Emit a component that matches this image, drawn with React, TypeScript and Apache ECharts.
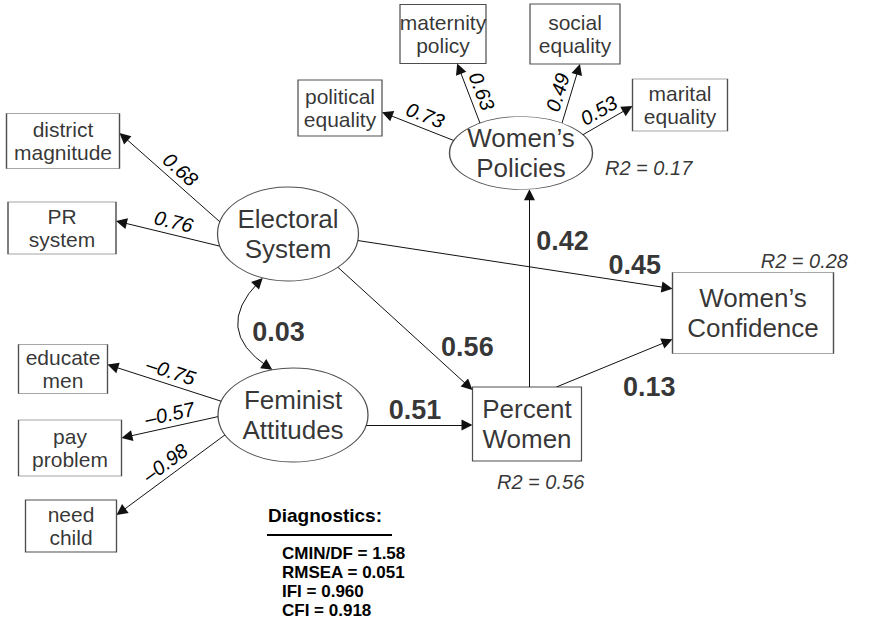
import { useEffect, useRef } from 'react';
import * as echarts from 'echarts';

const FONT = '"Liberation Sans", Arial, Helvetica, sans-serif';

// ---------------- data ----------------
const nodeIds = ['ES', 'FA', 'PW', 'WP', 'WC', 'DM', 'PR', 'EM', 'PP', 'NC', 'PE', 'MP', 'SE', 'ME'];
const nodeLabels = [
  'Electoral\nSystem', 'Feminist\nAttitudes', 'Percent\nWomen', 'Women\u2019s\nPolicies', 'Women\u2019s\nConfidence',
  'district\nmagnitude', 'PR\nsystem', 'educate\nmen', 'pay\nproblem', 'need\nchild',
  'political\nequality', 'maternity\npolicy', 'social\nequality', 'marital\nequality',
];

const loadingFrom = ['ES', 'ES', 'FA', 'FA', 'FA', 'WP', 'WP', 'WP', 'WP'];
const loadingTo = ['DM', 'PR', 'EM', 'PP', 'NC', 'PE', 'MP', 'SE', 'ME'];
const loadingValues = [0.68, 0.76, -0.75, -0.57, -0.98, 0.73, 0.63, 0.49, 0.53];

const pathFrom = ['ES', 'ES', 'FA', 'PW', 'PW'];
const pathTo = ['WC', 'PW', 'PW', 'WP', 'WC'];
const pathValues = [0.45, 0.56, 0.51, 0.42, 0.13];

const covPair = ['ES', 'FA'];
const covValue = 0.03;

const r2Nodes = ['WP', 'WC', 'PW'];
const r2Values = [0.17, 0.28, 0.56];

const diagTitle = 'Diagnostics:';
const diagNames = ['CMIN/DF', 'RMSEA', 'IFI', 'CFI'];
const diagValues = ['1.58', '0.051', '0.960', '0.918'];

// ---------------- layout (positions / sizes) ----------------
type Node = { x: number; y: number; w: number; h: number; shape: 'ellipse' | 'rect'; big: boolean };
const LAYOUT: Record<string, Node> = {
  ES: { x: 288, y: 234, w: 141, h: 94, shape: 'ellipse', big: true },
  FA: { x: 293, y: 415, w: 150, h: 94, shape: 'ellipse', big: true },
  PW: { x: 527, y: 424, w: 109, h: 74, shape: 'rect', big: true },
  WP: { x: 521, y: 153, w: 143, h: 73, shape: 'ellipse', big: true },
  WC: { x: 753, y: 313, w: 161, h: 81, shape: 'rect', big: true },
  DM: { x: 63, y: 141, w: 113, h: 55, shape: 'rect', big: false },
  PR: { x: 62, y: 228, w: 108, h: 52, shape: 'rect', big: false },
  EM: { x: 63, y: 369, w: 89, h: 49, shape: 'rect', big: false },
  PP: { x: 70, y: 448, w: 103, h: 56, shape: 'rect', big: false },
  NC: { x: 71, y: 526, w: 91, h: 52, shape: 'rect', big: false },
  PE: { x: 340, y: 108, w: 84, h: 56, shape: 'rect', big: false },
  MP: { x: 443, y: 34, w: 86, h: 59, shape: 'rect', big: false },
  SE: { x: 575, y: 34, w: 90, h: 60, shape: 'rect', big: false },
  ME: { x: 680, y: 105, w: 95, h: 52, shape: 'rect', big: false },
};
type Anchor = number | [number, number];
const loadingAnchors: [Anchor, Anchor][] = [
  [-165, [1, -0.29]], [165, [1, -0.27]], [-163, [1, -0.18]], [178, [1, -0.36]], [155, [1, -0.42]],
  [-160, [1, 0.15]], [-125, [0.33, 1]], [-55, [0.11, 1]], [-30, [-1, 0.04]],
];
const pathAnchors: [Anchor, Anchor][] = [
  [8, [-1, -0.6]], [45, [-1, -0.92]], [12.5, [-1, 0.03]], [[0.05, -1], 83.2], [[0.54, -1], [-1, 0.65]],
];
const pathLabelPos = [[0.88, 0, -18], [0.65, 42, 0], [0.46, 0, -15], [0.74, 33, 0], [0.8, 0, 38]];
const covAnchors: [number, number] = [111, -106];
const covCurveness = -0.6;
const covLabelOffset = [11, 8];
const r2Offsets: [number, number, string][] = [[84, 15, 'left'], [95, -52, 'right'], [-30, 58, 'left']];
const ARROW = 11;
const ELLIPSE = 'path://M0,50A50,50,0,1,1,100,50A50,50,0,1,1,0,50Z';
const BIG_FONT = 26;
const BIG_LH = 29.2;
const SMALL_FONT = 21;
const SMALL_LH = 23.6;

function anchorPt(id: string, a: Anchor): number[] {
  const n = LAYOUT[id];
  if (typeof a === 'number') {
    const r = (a * Math.PI) / 180;
    return [n.x + (n.w / 2) * Math.cos(r), n.y + (n.h / 2) * Math.sin(r)];
  }
  return [n.x + (a[0] * n.w) / 2, n.y + (a[1] * n.h) / 2];
}
function toward(p: number[], q: number[], d: number) {
  const dx = q[0] - p[0];
  const dy = q[1] - p[1];
  const L = Math.hypot(dx, dy) || 1;
  return [p[0] + (dx / L) * d, p[1] + (dy / L) * d];
}
const fmt = (v: number) => (v < 0 ? '\u2013' : '') + Math.abs(v).toFixed(2);

export default function App() {
  const ref = useRef<HTMLDivElement>(null);
  useEffect(() => {
    if (!ref.current) return;
    const chart = echarts.init(ref.current, undefined, { renderer: 'svg' });

    const nodeData = nodeIds.map((id) => {
      const n = LAYOUT[id];
      return {
        name: id,
        value: [n.x, n.y],
        symbol: n.shape === 'ellipse' ? ELLIPSE : 'rect',
        symbolSize: [n.w, n.h],
        label: { fontSize: n.big ? BIG_FONT : SMALL_FONT, lineHeight: n.big ? BIG_LH : SMALL_LH },
      };
    });

    const loadingData = loadingFrom.map((f, i) => {
      const p1 = anchorPt(f, loadingAnchors[i][0]);
      const p2 = anchorPt(loadingTo[i], loadingAnchors[i][1]);
      return { name: fmt(loadingValues[i]), coords: [p1, toward(p2, p1, ARROW / 2)] };
    });

    const annText: string[] = [];
    const annData: any[] = [];
    const pathData = pathFrom.map((f, i) => {
      const p1 = anchorPt(f, pathAnchors[i][0]);
      const p2 = anchorPt(pathTo[i], pathAnchors[i][1]);
      const [t, dx, dy] = pathLabelPos[i];
      annText.push(pathValues[i].toFixed(2));
      annData.push({
        value: [p1[0] + (p2[0] - p1[0]) * t + dx, p1[1] + (p2[1] - p1[1]) * t + dy],
        label: { fontSize: 27, fontWeight: 'bold' },
      });
      return { name: '', coords: [p1, toward(p2, p1, ARROW / 2)] };
    });

    const c1 = anchorPt(covPair[0], covAnchors[0]);
    const c2 = anchorPt(covPair[1], covAnchors[1]);
    const cp = [
      (c1[0] + c2[0]) / 2 - (c1[1] - c2[1]) * covCurveness,
      (c1[1] + c2[1]) / 2 - (c2[0] - c1[0]) * covCurveness,
    ];
    const covData = [{ name: '', coords: [toward(c1, cp, ARROW / 2), toward(c2, cp, ARROW / 2)] }];
    annText.push(covValue.toFixed(2));
    annData.push({
      value: [(c1[0] + c2[0]) / 2 + covLabelOffset[0], (c1[1] + c2[1]) / 2 + covLabelOffset[1]],
      label: { fontSize: 27, fontWeight: 'bold' },
    });

    r2Nodes.forEach((id, i) => {
      const n = LAYOUT[id];
      const [dx, dy, align] = r2Offsets[i];
      annText.push('R2 = ' + r2Values[i].toFixed(2));
      annData.push({
        value: [n.x + dx, n.y + dy],
        label: { fontSize: 20, fontStyle: 'italic', align },
      });
    });

    const lineCommon = {
      type: 'lines',
      coordinateSystem: 'cartesian2d',
      silent: true,
      z: 2,
      symbolSize: ARROW,
      lineStyle: { color: '#111', width: 1, opacity: 1 },
      itemStyle: { color: '#111' },
    };

    chart.setOption({
      animation: false,
      backgroundColor: '#fff',
      grid: { left: 0, right: 0, top: 0, bottom: 0 },
      xAxis: { type: 'value', min: 0, max: 870, show: false },
      yAxis: { type: 'value', min: 0, max: 624, inverse: true, show: false },
      series: [
        {
          ...lineCommon,
          symbol: ['none', 'triangle'],
          label: {
            show: true,
            position: 'middle',
            formatter: (p: any) => p.name,
            fontFamily: FONT,
            fontSize: 20,
            fontStyle: 'italic',
            color: '#000',
            distance: 3,
          },
          data: loadingData,
        },
        { ...lineCommon, symbol: ['none', 'triangle'], label: { show: false }, data: pathData },
        {
          ...lineCommon,
          symbol: ['triangle', 'triangle'],
          lineStyle: { color: '#111', width: 1, opacity: 1, curveness: covCurveness },
          label: { show: false },
          data: covData,
        },
        {
          type: 'scatter',
          silent: true,
          z: 3,
          itemStyle: { color: '#fff', borderColor: '#222', borderWidth: 1 },
          label: {
            show: true,
            position: 'inside',
            color: '#000',
            fontFamily: FONT,
            formatter: (p: any) => nodeLabels[p.dataIndex],
          },
          data: nodeData,
        },
        {
          type: 'scatter',
          silent: true,
          z: 4,
          symbol: 'rect',
          symbolSize: 1,
          itemStyle: { color: 'rgba(0,0,0,0)' },
          label: {
            show: true,
            position: 'inside',
            color: '#000',
            fontFamily: FONT,
            formatter: (p: any) => annText[p.dataIndex],
          },
          data: annData,
        },
      ],
      graphic: [
        {
          type: 'text',
          x: 268,
          y: 515,
          style: { text: diagTitle, fontFamily: FONT, fontSize: 19, fontWeight: 'bold', fill: '#000', verticalAlign: 'middle' },
        },
        { type: 'line', shape: { x1: 267, y1: 535, x2: 392, y2: 535 }, style: { stroke: '#000', lineWidth: 2 } },
        {
          type: 'text',
          x: 282,
          y: 544,
          style: {
            text: diagNames.map((n, i) => `${n} = ${diagValues[i]}`).join('\n'),
            fontFamily: FONT,
            fontSize: 17,
            fontWeight: 'bold',
            lineHeight: 19,
            fill: '#000',
            verticalAlign: 'top',
          },
        },
      ],
    });
    return () => chart.dispose();
  }, []);
  return <div ref={ref} style={{ position: 'fixed', left: 0, top: 0, width: 870, height: 624, background: '#fff' }} />;
}
